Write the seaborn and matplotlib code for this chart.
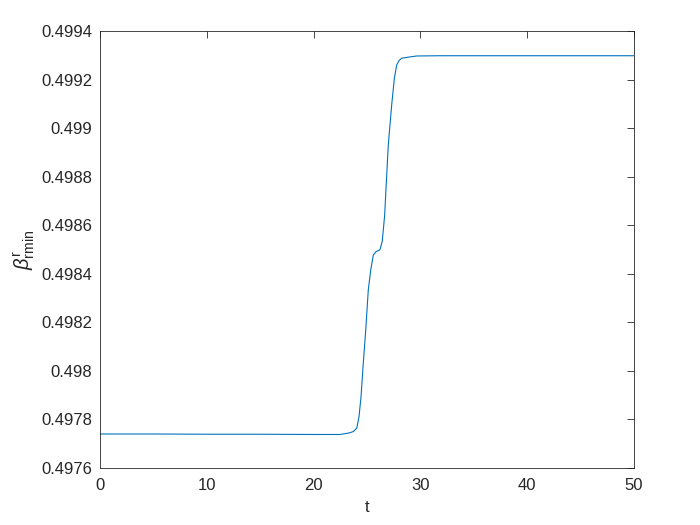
import numpy as np
import pandas as pd
import matplotlib
matplotlib.use("Agg")
import matplotlib.pyplot as plt
import seaborn as sns
from matplotlib.ticker import FuncFormatter

# values
t = [0, 5, 10, 15, 20, 22.47, 23.3, 23.72, 24.04, 24.25, 24.44, 24.65, 24.88,
     25.12, 25.35, 25.59, 25.84, 26.05, 26.22, 26.43, 26.65, 26.99, 27.31,
     27.56, 27.78, 28.0, 28.25, 29.0, 29.65, 31.84, 40, 50]
beta = [0.497740, 0.497740, 0.497739, 0.497739, 0.497738, 0.497738, 0.497744,
        0.497750, 0.497764, 0.497811, 0.497894, 0.498031, 0.498168, 0.498333,
        0.498416, 0.498477, 0.498491, 0.498495, 0.498500, 0.498535, 0.498640,
        0.498930, 0.499095, 0.499205, 0.499260, 0.499278, 0.499288, 0.499293,
        0.499297, 0.499298, 0.499298, 0.499298]

df = pd.DataFrame({"t": t, "beta": beta})

sns.set_style("white")
plt.rcParams["font.family"] = ["Liberation Sans", "DejaVu Sans"]
plt.rcParams["mathtext.fontset"] = "custom"
plt.rcParams["mathtext.rm"] = "Liberation Sans"
plt.rcParams["mathtext.it"] = "Liberation Sans:italic"

fig = plt.figure(figsize=(7, 5.25), dpi=100)
ax = fig.add_axes([0.1429, 0.1086, 0.7628, 0.8324])

sns.lineplot(data=df, x="t", y="beta", ax=ax, color="#0072BD", linewidth=0.8)

ax.set_xlim(0, 50)
ax.set_ylim(0.4976, 0.4994)
ax.set_xticks(np.arange(0, 51, 10))
ax.set_yticks(np.arange(0.4976, 0.49941, 0.0002))
ax.yaxis.set_major_formatter(FuncFormatter(lambda v, p: f"{v:.4f}".rstrip("0")))

ax.set_xlabel("t", fontsize=12, color="#262626", labelpad=5)
ax.set_ylabel(r"$\beta^{\mathrm{r}}_{\mathrm{rmin}}$", fontsize=14.5,
              color="#262626", labelpad=3)

ax.tick_params(direction="in", length=5, width=0.6, top=True, right=True,
               labelsize=12, colors="#262626")
ax.tick_params(axis="x", pad=7)
ax.tick_params(axis="y", pad=5.5)
for s in ax.spines.values():
    s.set_visible(True)
    s.set_color("#262626")
    s.set_linewidth(0.6)

fig.savefig("out.png", dpi=100)
